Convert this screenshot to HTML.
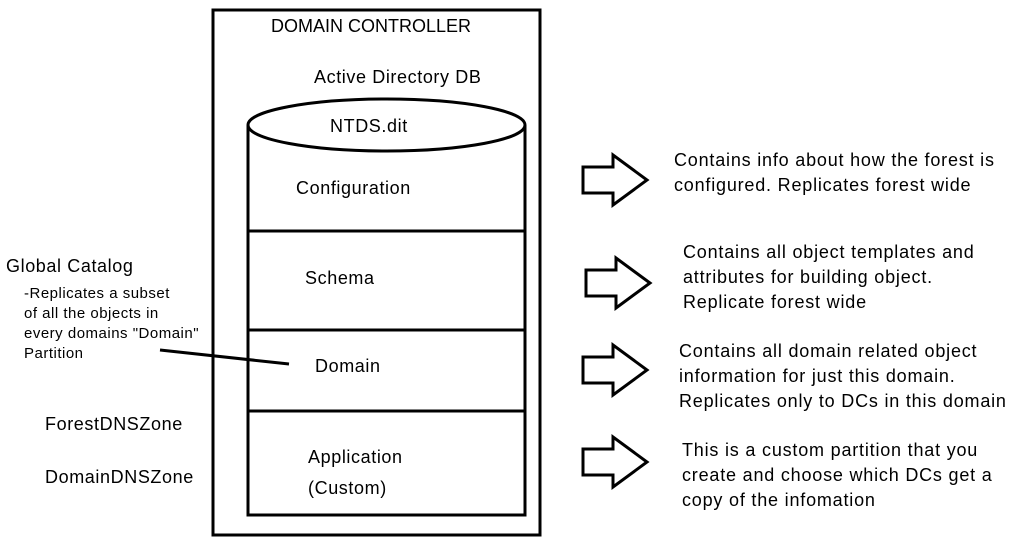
<!DOCTYPE html>
<html><head><style>
body{margin:0;width:1014px;height:543px;background:#fff;position:relative;overflow:hidden;font-family:"Liberation Sans",sans-serif;font-size:18px;letter-spacing:0.6px;color:#000}
.t{position:absolute;white-space:nowrap;line-height:22px}
.r{letter-spacing:0.8px;line-height:25px}
</style></head><body>
<svg width="1014" height="543" style="position:absolute;left:0;top:0" fill="none" stroke="#000" stroke-width="3">
<rect x="213" y="10" width="327" height="525"/>
<path d="M248 125 V515 H525 V125"/>
<ellipse cx="386.5" cy="125" rx="138.5" ry="26" fill="#fff"/>
<line x1="248" y1="231" x2="525" y2="231"/>
<line x1="248" y1="330" x2="525" y2="330"/>
<line x1="248" y1="411" x2="525" y2="411"/>
<line x1="160" y1="350" x2="289" y2="364"/>
<g stroke-width="3" stroke-linejoin="miter">
<path d="M583 167 H613 V155 L647 180 L613 205 V193 H583 Z"/>
<path d="M586 270 H616 V258 L650 283 L616 308 V296 H586 Z"/>
<path d="M583 357 H613 V345 L647 370 L613 395 V383 H583 Z"/>
<path d="M583 449 H613 V437 L647 462 L613 487 V475 H583 Z"/>
</g>
</svg>
<div class="t" style="left:271px;top:15px;letter-spacing:0">DOMAIN CONTROLLER</div>
<div class="t" style="left:314px;top:66px">Active Directory DB</div>
<div class="t" style="left:330px;top:115px">NTDS.dit</div>
<div class="t" style="left:296px;top:177px">Configuration</div>
<div class="t" style="left:305px;top:267px">Schema</div>
<div class="t" style="left:315px;top:355px">Domain</div>
<div class="t" style="left:308px;top:446px">Application</div>
<div class="t" style="left:308px;top:477px">(Custom)</div>
<div class="t" style="left:6px;top:255px">Global Catalog</div>
<div class="t" style="left:24px;top:284px;font-size:15px;letter-spacing:0.5px;line-height:20px">-Replicates a subset<br>of all the objects in<br>every domains "Domain"<br>Partition</div>
<div class="t" style="left:45px;top:413px">ForestDNSZone</div>
<div class="t" style="left:45px;top:466px">DomainDNSZone</div>
<div class="t r" style="left:674px;top:148px">Contains info about how the forest is<br>configured. Replicates forest wide</div>
<div class="t r" style="left:683px;top:240px">Contains all object templates and<br>attributes for building object.<br>Replicate forest wide</div>
<div class="t r" style="left:679px;top:339px">Contains all domain related object<br>information for just this domain.<br>Replicates only to DCs in this domain</div>
<div class="t r" style="left:682px;top:438px">This is a custom partition that you<br>create and choose which DCs get a<br>copy of the infomation</div>
</body></html>
